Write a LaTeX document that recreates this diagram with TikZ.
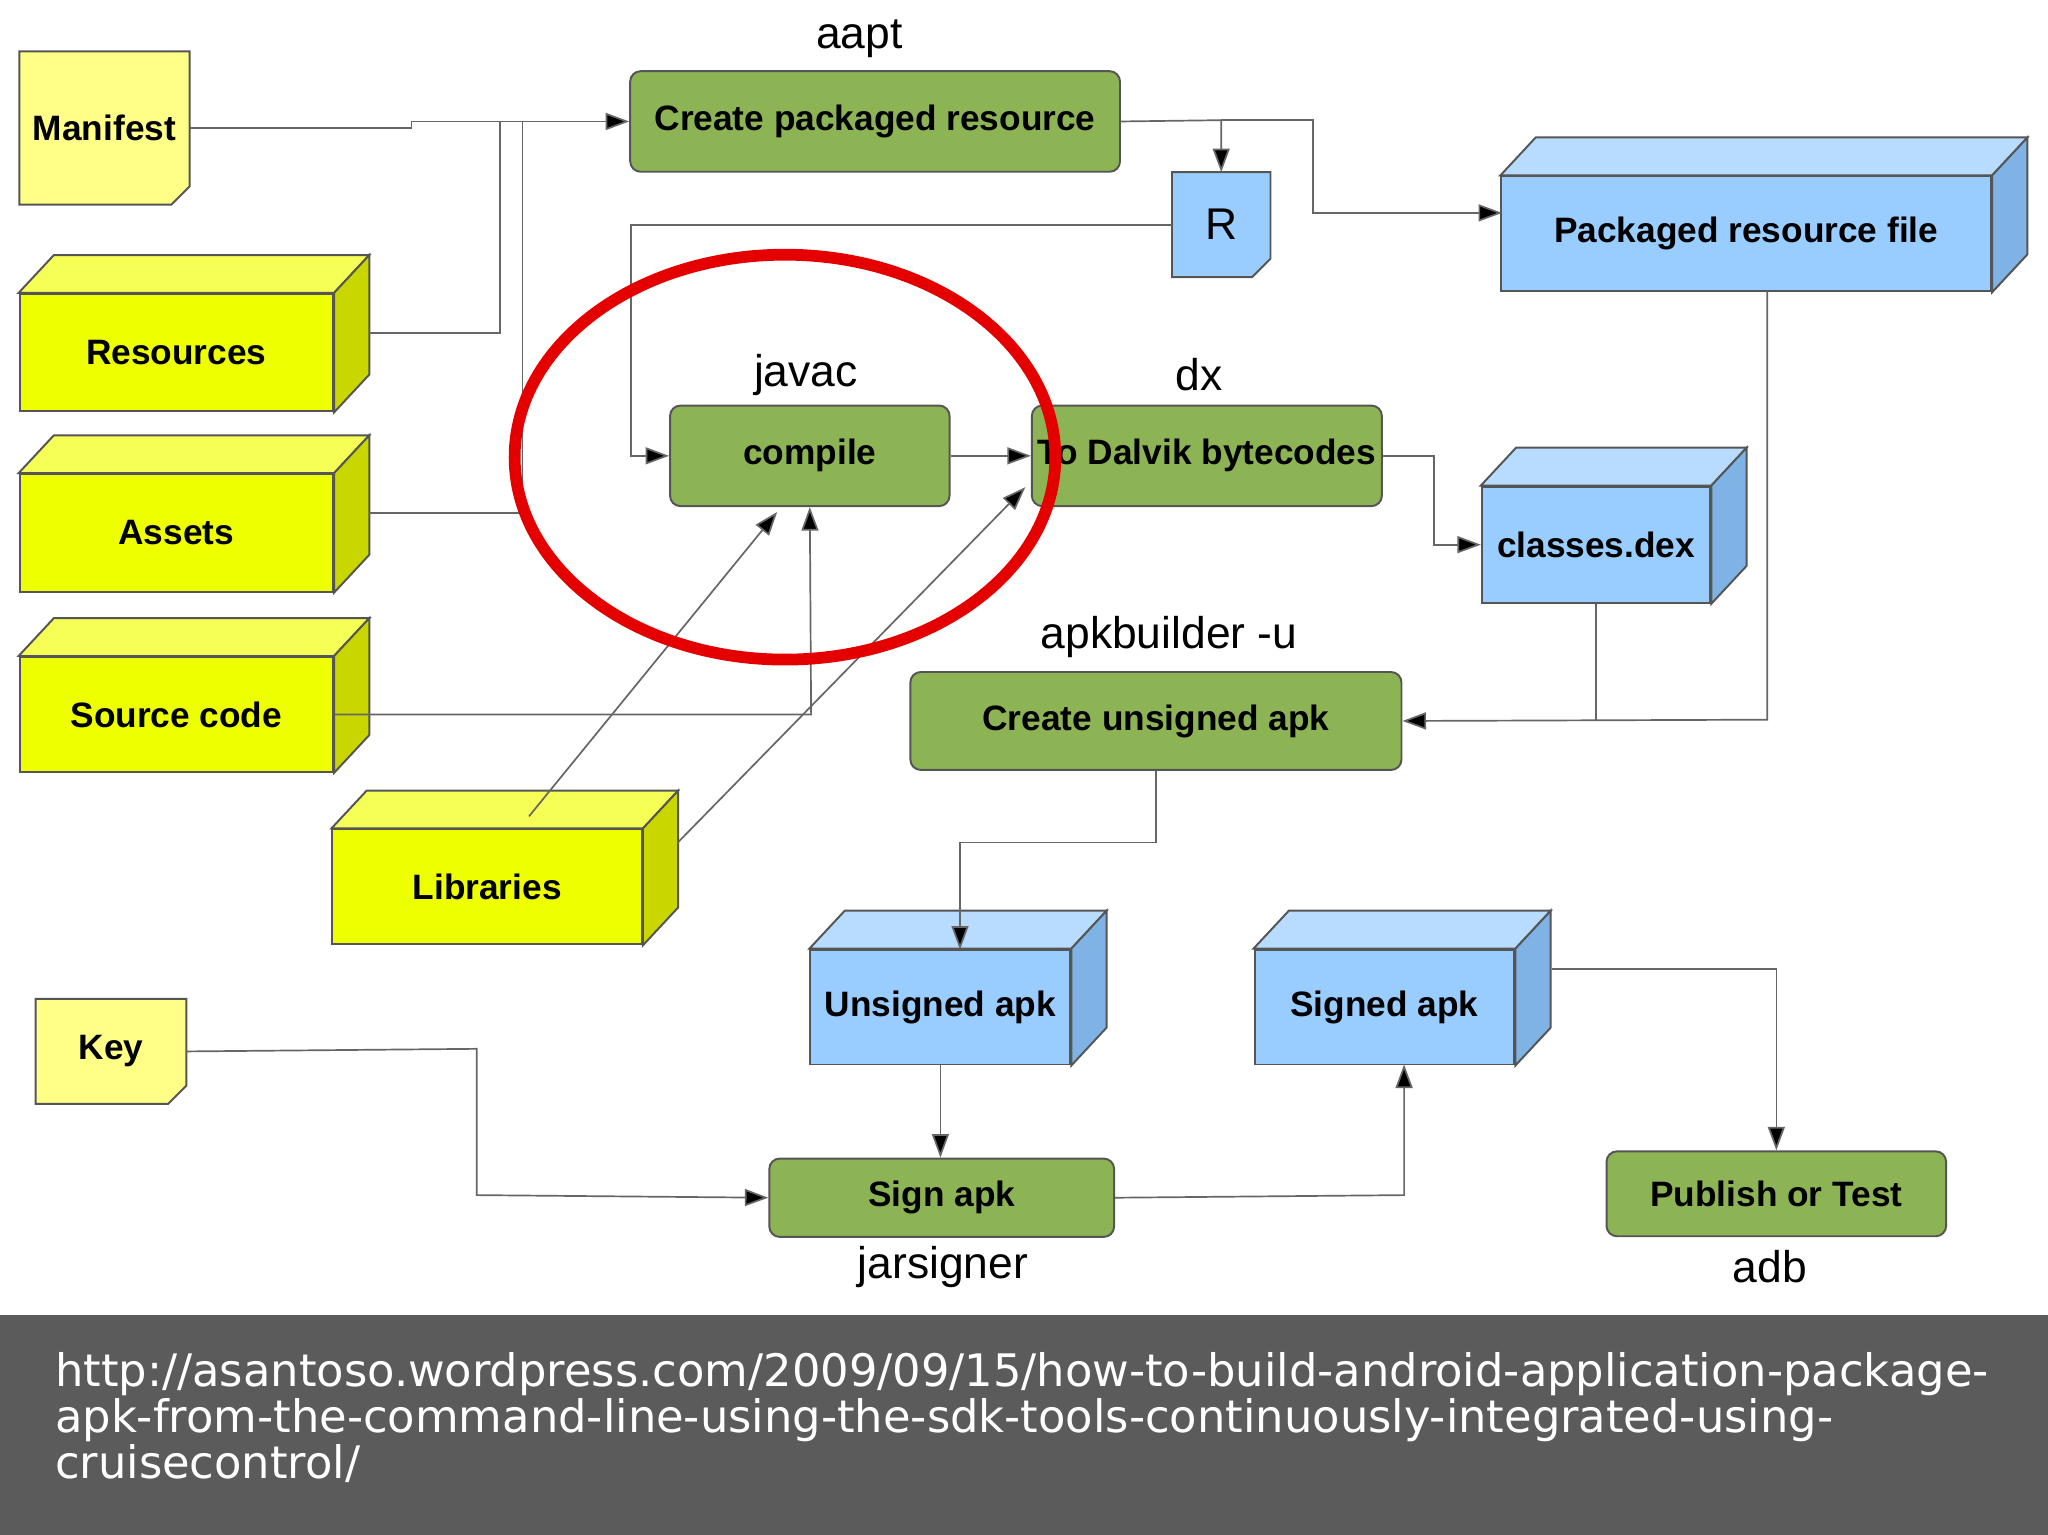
\documentclass[tikz,border=0pt]{standalone}
\usepackage{fontspec}
\setmainfont{DejaVu Sans}
\newfontfamily\lab{Liberation Sans}
\newfontfamily\boxf{Liberation Sans}
\usetikzlibrary{calc,arrows.meta}
\definecolor{yfront}{HTML}{EEFF00}\definecolor{ytop}{HTML}{F6FF55}\definecolor{yside}{HTML}{C9D600}
\definecolor{bfront}{HTML}{99CCFF}\definecolor{btop}{HTML}{B8DCFF}\definecolor{bside}{HTML}{7FB2E5}
\definecolor{notey}{HTML}{FFFF88}
\definecolor{grn}{HTML}{8DB454}\definecolor{edge}{HTML}{555555}
\definecolor{band}{HTML}{5B5B5B}
\tikzset{
 boxtxt/.style={font=\boxf\fontsize{27}{30}\selectfont\bfseries},
 cubefront/.style={draw=edge,line width=1.5pt,boxtxt,inner sep=0pt},
 proc/.style={draw=edge,fill=grn,rounded corners=8pt,line width=1.5pt,boxtxt,inner sep=0pt},
 lbl/.style={font=\lab\fontsize{34}{36}\selectfont},
 conn/.style={draw=gray!80!black,line width=1.3pt},
 arr/.style={conn,-{Triangle[length=18pt,width=13pt,fill=black]}},
}
\newcommand\cube[7]{%
 \node[cubefront,fill=#6front,minimum width=#4pt,minimum height=#5pt] (#1) at (#2,#3) {#7};
 \filldraw[fill=#6top,draw=edge,line width=1.5pt] (#1.north west) -- ++(27,-29) -- ($(#1.north east)+(27,-29)$) -- (#1.north east) -- cycle;
 \filldraw[fill=#6side,draw=edge,line width=1.5pt] (#1.north east) -- ++(27,-29) -- ($(#1.south east)+(27,-29)$) -- (#1.south east) -- cycle;}
\newcommand\note[7]{%
 \node[boxtxt,minimum width=#4pt,minimum height=#5pt,inner sep=0pt] (#1) at (#2,#3) {};
 \filldraw[fill=#6,draw=edge,line width=1.5pt] (#1.north west) -- (#1.north east) -- ($(#1.south east)+(0,-14)$) -- ($(#1.south east)+(-14,0)$) -- (#1.south west) -- cycle;
 \node[boxtxt] at (#1) {#7};}
\begin{document}
\begin{tikzpicture}[x=1pt,y=-1pt]
\useasboundingbox (0,0) rectangle (1568,1175);
\fill[white] (0,0) rectangle (1568,1007);
\note{man}{80}{98}{130}{117}{notey}{Manifest}
\cube{res}{135}{270}{240}{90}{y}{Resources}
\cube{ast}{135}{408}{240}{90}{y}{Assets}
\cube{src}{135}{547}{240}{88}{y}{Source code}
\cube{lib}{373}{679}{237}{88}{y}{Libraries}
\note{key}{85}{805}{115}{80}{notey}{Key}
\node[proc,minimum width=375pt,minimum height=77pt] (cpr) at (670,93) {Create packaged resource};
\node[lbl] at (658,30) {aapt};
\note{R}{935}{172}{75}{80}{bfront}{\lab\fontsize{34}{36}\selectfont\mdseries R}
\cube{prf}{1337}{179}{375}{88}{b}{Packaged resource file}
\node[proc,minimum width=214pt,minimum height=77pt] (cmp) at (620,349) {compile};
\node[lbl] at (617,287) {javac};
\node[proc,minimum width=268pt,minimum height=77pt] (dlv) at (924,349) {To Dalvik bytecodes};
\node[lbl] at (918,287) {dx};
\cube{dex}{1222}{417}{175}{89}{b}{classes.dex}
\node[proc,minimum width=376pt,minimum height=75pt] (cua) at (885,552) {Create unsigned apk};
\node[lbl] at (895,488) {apkbuilder -u};
\cube{ua}{720}{771}{199}{88}{b}{Unsigned apk}
\cube{sa}{1060}{771}{199}{88}{b}{Signed apk}
\node[proc,minimum width=264pt,minimum height=60pt] (sgn) at (721,917) {Sign apk};
\node[lbl] at (722,970) {jarsigner};
\node[proc,minimum width=260pt,minimum height=65pt] (pub) at (1360,914) {Publish or Test};
\node[lbl] at (1355,970) {adb};
\coordinate (resr) at ($(res.east)+(27,-15)$);
\coordinate (astr) at ($(ast.east)+(27,-15)$);
\draw[arr] (man.east) -- (315,98) -- (315,93) -- (cpr.west);
\draw[conn] (resr) -- (383,255) -- (383,93);
\draw[conn] (astr) -- (400,393) -- (400,93);
\draw[arr] (cpr.east) -- (935,92) -- (R.north);
\draw[arr] (935,92) -- (1005,92) -- (1005,163) -- (1150,163);
\draw[arr] (R.west) -- (483,172) -- (483,349) -- (cmp.west);
\draw[arr] (src.east) -- (621,547) -- (cmp.south);
\draw[arr] (405,625) -- (595,392);
\draw[arr] (519,645) -- (785,373);
\draw[arr] (cmp.east) -- (dlv.west);
\draw[arr] (dlv.east) -- (1098,349) -- (1098,417) -- (dex.west);
\draw[conn] (dex.south) -- (1222,551);
\draw[arr] (1353,223) -- (1353,551) -- (cua.east);
\draw[arr] (cua.south) -- (885,645) -- (735,645) -- (735,727);
\draw[arr] (ua.south) -- (sgn.north -| ua.south);
\draw[arr] (key.east) -- (365,803) -- (365,915) -- (sgn.west);
\draw[arr] (sgn.east) -- (1075,915) -- (1075,815);
\draw[arr] (1188,742) -- (1360,742) -- (pub.north);
\draw[red!90!black,line width=9pt] (601,350) ellipse [x radius=207,y radius=155];
\fill[band] (0,1007) rectangle (1568,1175);
\node[anchor=north west,align=left,text=white,font=\fontsize{34.3}{35.5}\selectfont,inner sep=0pt] (url) at (42,1035) {http://asantoso.wordpress.com/2009/09/15/how-to-build-android-application-package-\\apk-from-the-command-line-using-the-sdk-tools-continuously-integrated-using-\\cruisecontrol/};
\end{tikzpicture}
\end{document}
